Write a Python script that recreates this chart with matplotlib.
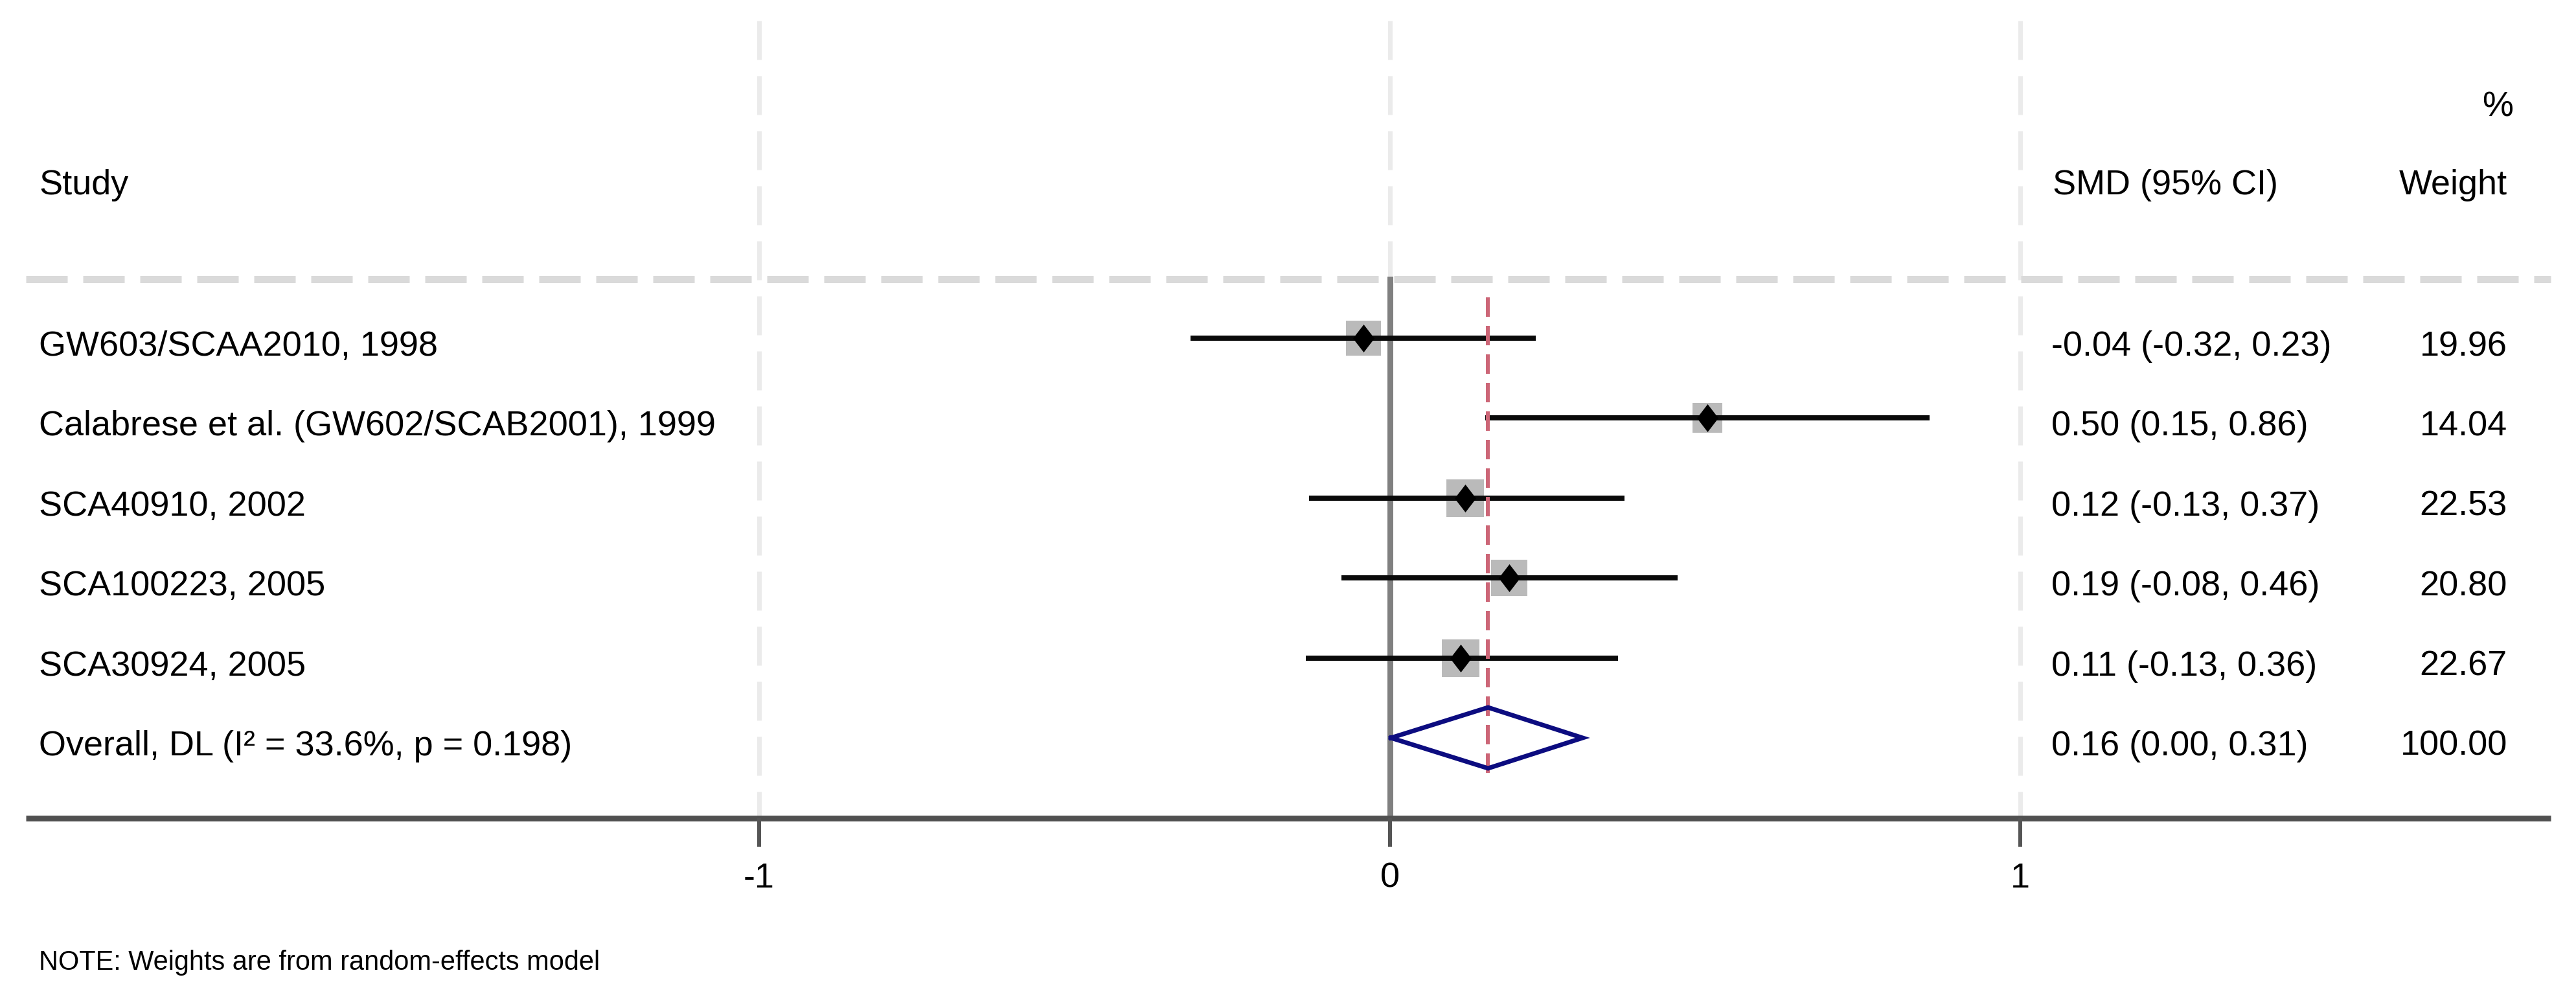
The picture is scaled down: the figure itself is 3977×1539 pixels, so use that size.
import matplotlib
matplotlib.use("Agg")
import matplotlib.pyplot as plt

# study data (SMD, 95% CI, random-effects weights)
studies = ["GW603/SCAA2010, 1998",
           "Calabrese et al. (GW602/SCAB2001), 1999",
           "SCA40910, 2002",
           "SCA100223, 2005",
           "SCA30924, 2005"]
est = [-0.042, 0.504, 0.120, 0.190, 0.112]
lo = [-0.316, 0.152, -0.128, -0.077, -0.133]
hi = [0.232, 0.856, 0.372, 0.457, 0.362]
weights = [19.96, 14.04, 22.53, 20.80, 22.67]

overall_label = "Overall, DL (I\u00b2 = 33.6%, p = 0.198)"
overall_est = 0.156
overall_lo = 0.002
overall_hi = 0.306
overall_weight = 100.00

xticks = [-1, 0, 1]
xticklabels = ["-1", "0", "1"]
note = "NOTE: Weights are from random-effects model"

plt.rcParams['font.family'] = ['Liberation Sans', 'DejaVu Sans']
plt.rcParams['lines.scale_dashes'] = False

W, H, DPI = 3977, 1539, 100
PT = 72.0 / DPI  # points per pixel

# layout: pixel -> data mapping
X0, XS = 2145.5, 973.5          # x pixel of 0, pixels per unit
Y0, YS = 522.0, 123.4           # y pixel of first row, pixels per row

def px2x(px):
    return (px - X0) / XS

def px2y(py):
    return (py - Y0) / YS

fig = plt.figure(figsize=(W / DPI, H / DPI), dpi=DPI)
ax = fig.add_axes([0, 0, 1, 1])
ax.set_xlim(px2x(0), px2x(W))
ax.set_ylim(px2y(H), px2y(0))
ax.axis('off')

fs = 54 * PT
fs_note = 41.5 * PT
base = 27 / YS  # text baseline offset below row centre

# light vertical grid at the x ticks
for t in xticks:
    ax.plot([t, t], [px2y(32), px2y(1263)], color='#ebebeb', lw=7 * PT,
            dashes=(60 * PT, 25 * PT), solid_capstyle='butt', zorder=1)

# header separator
ax.plot([px2x(40), px2x(3938)], [px2y(431), px2y(431)], color='#dadada',
        lw=11 * PT, dashes=(64 * PT, 24 * PT), zorder=1)

# no-effect line
ax.plot([0, 0], [px2y(431), px2y(1263)], color='#808080', lw=9 * PT, zorder=2)

# overall effect line
ax.plot([overall_est, overall_est], [px2y(459), px2y(1200)], color='#cc6677',
        lw=6 * PT, dashes=(30 * PT, 14 * PT), zorder=5)

rows = list(range(len(studies)))

# weight boxes
for i in rows:
    side = 12.3 * weights[i] ** 0.5
    ax.plot(est[i], i, marker='s', markersize=side * PT, color='#bababa',
            markeredgewidth=0, zorder=3)

# confidence intervals
for i in rows:
    ax.plot([lo[i], hi[i]], [i, i], color='#0a0a0a', lw=8 * PT,
            solid_capstyle='butt', zorder=4)

# point estimates
dmark = [(0, 1), (0.77, 0), (0, -1), (-0.77, 0), (0, 1)]
ax.plot(est, rows, linestyle='none', marker=dmark, markersize=43 * PT,
        color='black', markeredgewidth=0, zorder=6)

# overall diamond
r = len(studies)
h = 47 / YS
ax.plot([overall_lo, overall_est, overall_hi, overall_est, overall_lo],
        [r, r - h, r, r + h, r], color='#0c0c80', lw=7 * PT,
        solid_joinstyle='miter', zorder=6)

# bottom axis
ax.plot([px2x(40), px2x(3938)], [px2y(1263), px2y(1263)], color='#505050',
        lw=9 * PT, solid_capstyle='butt', zorder=7)
for t, lab in zip(xticks, xticklabels):
    ax.plot([t, t], [px2y(1263), px2y(1307)], color='#555555', lw=6 * PT,
            solid_capstyle='butt', zorder=7)
    ax.text(t, px2y(1370), lab, fontsize=fs, ha='center', va='baseline')

# headers
ax.text(px2x(60), px2y(300), "Study", fontsize=fs, ha='left', va='baseline')
ax.text(px2x(3169), px2y(300), "SMD (95% CI)", fontsize=fs, ha='left', va='baseline')
ax.text(px2x(3871), px2y(300), "Weight", fontsize=fs, ha='right', va='baseline')
ax.text(px2x(3880), px2y(180), "%", fontsize=fs, ha='right', va='baseline')

# study rows
for i in rows:
    ax.text(px2x(60), i + base, studies[i], fontsize=fs, ha='left', va='baseline')
    ax.text(px2x(3167), i + base, "%.2f (%.2f, %.2f)" % (est[i], lo[i], hi[i]),
            fontsize=fs, ha='left', va='baseline')
    ax.text(px2x(3871), i + base, "%.2f" % weights[i], fontsize=fs,
            ha='right', va='baseline')

# overall row
ax.text(px2x(60), r + base, overall_label, fontsize=fs, ha='left', va='baseline')
ax.text(px2x(3167), r + base, "%.2f (%.2f, %.2f)" % (overall_est, overall_lo, overall_hi),
        fontsize=fs, ha='left', va='baseline')
ax.text(px2x(3871), r + base, "%.2f" % overall_weight, fontsize=fs,
        ha='right', va='baseline')

ax.text(px2x(60), px2y(1497), note, fontsize=fs_note, ha='left', va='baseline')

fig.savefig("out.png", dpi=DPI)
